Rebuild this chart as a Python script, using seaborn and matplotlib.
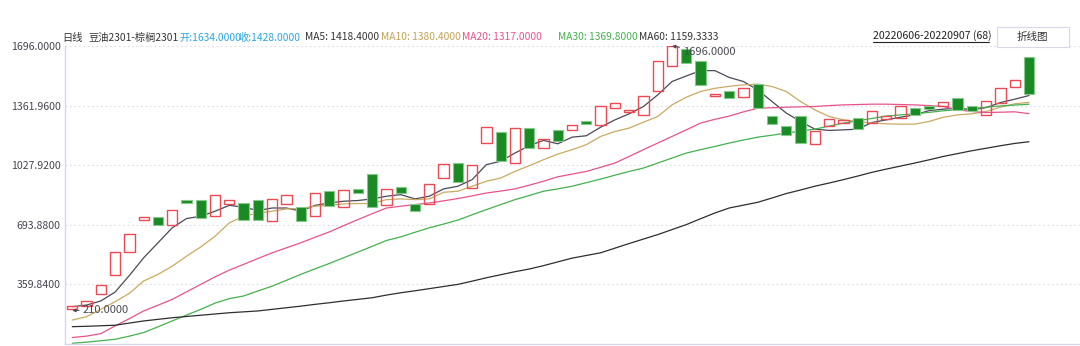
import numpy as np
import pandas as pd
import matplotlib
matplotlib.use("Agg")
import matplotlib.pyplot as plt
import matplotlib.patches as mpatches
import seaborn as sns

# ---------------- data ----------------
opens = [222, 240, 304, 412, 544, 718, 738, 690, 831, 831,
         746, 811, 816, 831, 714, 811, 794, 746, 882, 794,
         895, 977, 805, 908, 813, 811, 958, 1038, 900, 1154,
         1215, 1040, 1234, 1126, 1225, 1228, 1277, 1256, 1351, 1327,
         1308, 1443, 1586, 1679, 1610, 1415, 1446, 1411, 1484, 1301,
         1249, 1301, 1148, 1247, 1262, 1290, 1264, 1286, 1295, 1351,
         1357, 1359, 1403, 1361, 1308, 1379, 1469, 1634]
closes = [240, 266, 356, 540, 643, 738, 690, 779, 815, 731,
          863, 835, 718, 718, 839, 859, 714, 872, 798, 891,
          874, 794, 895, 874, 772, 923, 1033, 932, 1027, 1241,
          1051, 1234, 1122, 1174, 1165, 1252, 1260, 1360, 1375, 1336,
          1416, 1610, 1696, 1599, 1478, 1428, 1405, 1459, 1349, 1260,
          1195, 1152, 1221, 1286, 1282, 1230, 1329, 1305, 1362, 1312,
          1344, 1381, 1338, 1333, 1385, 1459, 1506, 1428]
ma5 = [235, 244, 267, 317, 410, 509, 593, 677, 729, 742,
       770, 803, 792, 774, 788, 788, 770, 803, 816, 826,
       830, 839, 854, 863, 839, 854, 895, 910, 947, 1031,
       1050, 1096, 1137, 1167, 1148, 1185, 1193, 1241, 1282, 1316,
       1357, 1422, 1497, 1528, 1558, 1558, 1520, 1497, 1450, 1385,
       1320, 1273, 1230, 1223, 1226, 1230, 1267, 1282, 1297, 1310,
       1334, 1342, 1348, 1338, 1351, 1379, 1398, 1418.4]
ma10 = [160, 179, 220, 263, 310, 379, 416, 462, 518, 570,
        630, 705, 742, 760, 770, 783, 785, 798, 803, 811,
        813, 813, 835, 839, 835, 839, 876, 882, 910, 938,
        956, 993, 1025, 1059, 1090, 1115, 1143, 1189, 1217, 1236,
        1269, 1301, 1366, 1409, 1441, 1459, 1470, 1478, 1482, 1469,
        1441, 1385, 1338, 1301, 1282, 1273, 1264, 1260, 1258, 1258,
        1273, 1297, 1310, 1316, 1329, 1353, 1372, 1380.4]
ma20 = [62, 70, 84, 127, 168, 211, 243, 276, 318, 360,
        402, 440, 472, 505, 537, 565, 593, 624, 654, 689,
        723, 756, 788, 798, 807, 816, 828, 841, 856, 872,
        883, 895, 916, 938, 963, 978, 993, 1016, 1040, 1077,
        1115, 1152, 1189, 1226, 1264, 1285, 1303, 1327, 1347, 1350,
        1353, 1355, 1357, 1362, 1366, 1368, 1370, 1370, 1368, 1366,
        1362, 1357, 1338, 1329, 1323, 1325, 1327, 1317]
ma30 = [30, 36, 44, 52, 70, 90, 122, 155, 188, 220,
        255, 280, 295, 323, 350, 383, 416, 447, 477, 509,
        541, 573, 606, 626, 652, 677, 698, 720, 750, 779,
        807, 835, 858, 882, 895, 910, 930, 950, 972, 993,
        1012, 1040, 1068, 1096, 1115, 1133, 1152, 1169, 1185, 1196,
        1208, 1219, 1230, 1247, 1264, 1277, 1290, 1303, 1310, 1316,
        1324, 1333, 1339, 1346, 1353, 1360, 1365, 1369.8]
ma60 = [123, 125, 128, 131, 143, 155, 164, 173, 180, 187,
        194, 201, 206, 211, 220, 229, 238, 248, 257, 267,
        276, 285, 300, 313, 324, 336, 348, 360, 378, 397,
        414, 431, 446, 465, 486, 507, 522, 537, 563, 589,
        614, 639, 667, 695, 728, 760, 788, 804, 820, 844,
        869, 889, 910, 928, 947, 967, 988, 1006, 1023, 1040,
        1058, 1077, 1093, 1109, 1123, 1137, 1150, 1159.33]
ytick_vals = [359.84, 693.88, 1027.92, 1361.96, 1696.0]
ma_names = ["MA5", "MA10", "MA20", "MA30", "MA60"]
high_label = "1696.0000"
low_label = "210.0000"
low_value = 214.0
high_value = 1696.0

# ---------------- style ----------------
sns.set_style("white")
plt.rcParams["font.family"] = ["Noto Sans CJK SC", "DejaVu Sans"]

W, H = 1080, 346
fig = plt.figure(figsize=(W / 100, H / 100), dpi=100)
ax = fig.add_axes([65 / W, 2 / H, (W - 65) / W, 298 / H])

n = len(opens)
idx = np.arange(n)

ma_colors = {"MA5": "#4a4a5a", "MA10": "#c9aa62", "MA20": "#e8528c",
             "MA30": "#45b04e", "MA60": "#2e2e2e"}
df = pd.concat([pd.DataFrame({"i": idx, "v": vals, "ma": name})
                for name, vals in zip(ma_names, [ma5, ma10, ma20, ma30, ma60])])
sns.lineplot(data=df, x="i", y="v", hue="ma", palette=ma_colors,
             legend=False, linewidth=0.9, ax=ax, zorder=2)

o = np.array(opens, float)
c = np.array(closes, float)
up = c >= o
bot = np.minimum(o, c)
hgt = np.abs(c - o)
ax.bar(idx[up], hgt[up], bottom=bot[up], width=0.72, facecolor="none",
       edgecolor="#ec4a52", linewidth=1.0, zorder=3)
ax.bar(idx[~up], hgt[~up], bottom=bot[~up], width=0.72, facecolor="#1a8b24",
       edgecolor="#86c98a", linewidth=0.8, zorder=3)

ax.set_xlim(-0.51, 70.57)
ax.set_ylim(25.8, 1696.0)
ax.set_xticks([])
ax.set_yticks(ytick_vals)
ax.set_yticklabels([f"{v:.4f}" for v in ytick_vals])
ax.tick_params(axis="y", length=0, pad=3, labelsize=7.6, labelcolor="#454550")
ax.grid(axis="y", linestyle=(0, (1.5, 2.5)), color="#dcdce4", linewidth=0.8)
ax.set_xlabel("")
ax.set_ylabel("")
for s in ["top", "right"]:
    ax.spines[s].set_visible(False)
for s in ["left", "bottom"]:
    ax.spines[s].set_color("#d6d6ee")
    ax.spines[s].set_linewidth(1.0)

# annotations for extremes
ax.annotate(high_label, xy=(42, high_value), xytext=(42.75, 1660),
            fontsize=8, color="#4a4a55", va="center", ha="left",
            arrowprops=dict(arrowstyle="-|>", color="#4a4a55", lw=0.7,
                            mutation_scale=5, shrinkA=0, shrinkB=0),
            annotation_clip=False, zorder=5)
ax.annotate(low_label, xy=(0.0, low_value), xytext=(0.7, low_value),
            fontsize=8, color="#4a4a55", va="center", ha="left",
            arrowprops=dict(arrowstyle="-|>", color="#4a4a55", lw=0.7,
                            mutation_scale=5, shrinkA=0, shrinkB=0),
            annotation_clip=False, zorder=5)

# ---------------- header ----------------
def px(x, y):
    return x / W, 1 - y / H

ty = 37.5
segments = [
    (62, "日线", "#333333"),
    (88, "豆油2301-棕榈2301", "#333333"),
    (180, "开:1634.0000", "#2aa6e6"),
    (238, "收:1428.0000", "#2aa6e6"),
    (305, "MA5: 1418.4000", "#333333"),
    (381, "MA10: 1380.4000", "#c4a255"),
    (462, "MA20: 1317.0000", "#e8528c"),
    (558, "MA30: 1369.8000", "#45b04e"),
    (639, "MA60: 1159.3333", "#333333"),
]
for x, s, col in segments:
    fig.text(*px(x, ty), s, fontsize=7.35, color=col, ha="left", va="center")

fig.text(*px(873, 35.5), "20220606-20220907 (68)", fontsize=7.6,
         color="#222222", ha="left", va="center")
fig.add_artist(plt.Line2D([873 / W, 989 / W], [1 - 41.5 / H, 1 - 41.5 / H],
                          color="#222222", linewidth=0.8))
fig.add_artist(mpatches.Rectangle(px(997, 47), 72 / W, 20 / H,
                                  facecolor="white", edgecolor="#d8d8e8",
                                  linewidth=0.8, transform=fig.transFigure))
fig.text(*px(1032, 37), "折线图", fontsize=7.6, color="#333333",
         ha="center", va="center")

fig.savefig("out.png", dpi=100)
